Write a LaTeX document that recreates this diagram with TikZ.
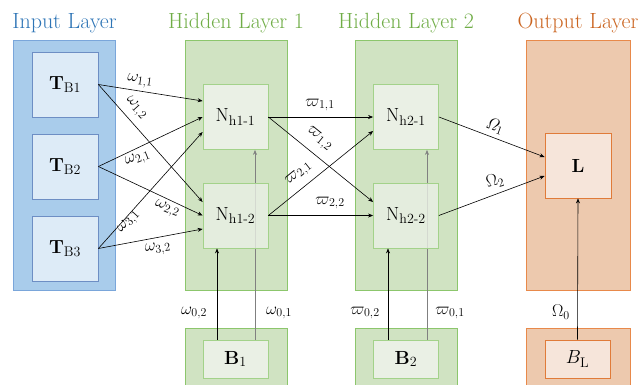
\RequirePackage{fix-cm}
\documentclass[tikz,border=0pt]{standalone}
\usepackage{amsmath}
\usetikzlibrary{arrows.meta,calc}

% larger sub-scripts for the unit names
\DeclareMathSizes{19}{19}{14}{10}
\DeclareMathSizes{17}{17}{12}{9}

\definecolor{inFill}{HTML}{A9CCEB}
\definecolor{inDraw}{HTML}{7AA6DA}
\definecolor{inBoxFill}{HTML}{DDEBF7}
\definecolor{inBoxDraw}{HTML}{6D8EC4}
\definecolor{inTitle}{HTML}{2E75B6}
\definecolor{hidFill}{HTML}{D0E3C2}
\definecolor{hidDraw}{HTML}{8CC66C}
\definecolor{hidBoxFill}{HTML}{EAF0E5}
\definecolor{hidBoxDraw}{HTML}{A3D28A}
\definecolor{hidTitle}{HTML}{70AD47}
\definecolor{outFill}{HTML}{EDC9AE}
\definecolor{outDraw}{HTML}{E8894A}
\definecolor{outBoxFill}{HTML}{F6E5DA}
\definecolor{outBoxDraw}{HTML}{E07B39}
\definecolor{outTitle}{HTML}{CB6521}

\tikzset{
  layer/.style={rectangle, draw, line width=0.8pt, minimum width=102pt, minimum height=250pt, inner sep=0pt},
  biaslayer/.style={rectangle, draw, line width=0.8pt, minimum width=102pt, minimum height=62pt, inner sep=0pt},
  unit/.style={rectangle, draw, line width=0.8pt, minimum width=65pt, minimum height=65pt, inner sep=0pt, font=\fontsize{19}{22}\selectfont},
  biasunit/.style={rectangle, draw, line width=0.8pt, minimum width=65pt, minimum height=38pt, inner sep=0pt, font=\fontsize{19}{22}\selectfont},
  title/.style={font=\fontsize{22}{26}\selectfont, inner sep=0pt},
  wlabel/.style={font=\fontsize{17}{20}\selectfont, inner sep=0pt},
  conn/.style={line width=0.6pt, -{Stealth[length=5pt,width=4pt]}},
  graylink/.style={conn, draw=black!50},
}

\begin{document}
\begin{tikzpicture}[x=1pt, y=-1pt]
\useasboundingbox (0,0) rectangle (638,384);

% layer titles
\node[title, text=inTitle]  (tin)  at (64.5,23)  {Input Layer};
\node[title, text=hidTitle] (th1)  at (236,23)   {Hidden Layer 1};
\node[title, text=hidTitle] (th2)  at (406,23)   {Hidden Layer 2};
\node[title, text=outTitle] (tout) at (578,23)   {Output Layer};

% layer backgrounds
\node[layer, fill=inFill, draw=inDraw] (Lin) at (64.5,165) {};
\node[layer, fill=hidFill, draw=hidDraw] (Lh1) at (236,165) {};
\node[layer, fill=hidFill, draw=hidDraw] (Lh2) at (406,165) {};
\node[layer, fill=outFill, draw=outDraw, minimum width=104pt] (Lout) at (578,165) {};
\node[biaslayer, fill=hidFill, draw=hidDraw] (Lb1) at (236,359) {};
\node[biaslayer, fill=hidFill, draw=hidDraw] (Lb2) at (406,359) {};
\node[biaslayer, fill=outFill, draw=outDraw, minimum width=104pt] (Lbl) at (578,359) {};

% bias units (drawn before the long bias links)
\node[biasunit, fill=hidBoxFill, draw=hidBoxDraw] (B1) at (235.5,359) {$\mathbf{B}_{1}$};
\node[biasunit, fill=hidBoxFill, draw=hidBoxDraw] (B2) at (406,359) {$\mathbf{B}_{2}$};
\node[biasunit, fill=outBoxFill, draw=outBoxDraw] (BL) at (577.5,359) {$B_{\mathrm{L}}$};

% upper hidden units and output unit
\node[unit, fill=hidBoxFill, draw=hidBoxDraw] (N11) at (235.5,117) {$\mathrm{N}_{\text{h1-1}}$};
\node[unit, fill=hidBoxFill, draw=hidBoxDraw] (N21) at (406,117) {$\mathrm{N}_{\text{h2-1}}$};
\node[unit, fill=outBoxFill, draw=outBoxDraw, minimum width=66pt] (L) at (578,165.5) {$\mathbf{L}$};

% bias links that pass behind the lower hidden units
\draw[graylink] ([xshift=19.5pt]B1.north) -- ([xshift=19.5pt]N11.south);
\draw[graylink] ([xshift=21pt]B2.north) -- ([xshift=21pt]N21.south);

% lower hidden units, slightly see-through
\node[unit, fill=hidBoxFill, draw=hidBoxDraw, fill opacity=0.8, text opacity=1] (N12) at (235.5,215.5) {$\mathrm{N}_{\text{h1-2}}$};
\node[unit, fill=hidBoxFill, draw=hidBoxDraw, fill opacity=0.8, text opacity=1] (N22) at (406,215.5) {$\mathrm{N}_{\text{h2-2}}$};

% input units
\node[unit, fill=inBoxFill, draw=inBoxDraw, minimum width=66pt] (T1) at (65,84.5)  {$\mathbf{T}_{\mathrm{B1}}$};
\node[unit, fill=inBoxFill, draw=inBoxDraw, minimum width=66pt] (T2) at (65,166.5) {$\mathbf{T}_{\mathrm{B2}}$};
\node[unit, fill=inBoxFill, draw=inBoxDraw, minimum width=66pt] (T3) at (65,248.5) {$\mathbf{T}_{\mathrm{B3}}$};

% input -> hidden layer 1
\draw[conn] (T1.east) -- ([yshift=16pt]N11.west);
\draw[conn] (T2.east) -- (N11.west);
\draw[conn] (T3.east) -- ([yshift=-15pt]N11.west);
\draw[conn] (T1.east) -- ([yshift=13.5pt]N12.west);
\draw[conn] (T2.east) -- (N12.west);
\draw[conn] (T3.east) -- ([yshift=-13.5pt]N12.west);

% hidden layer 1 -> hidden layer 2
\draw[conn] (N11.east) -- (N21.west);
\draw[conn] (N12.east) -- ([yshift=-14pt]N21.west);
\draw[conn] (N11.east) -- ([yshift=13.5pt]N22.west);
\draw[conn] (N12.east) -- (N22.west);

% hidden layer 2 -> output
\draw[conn] (N21.east) -- ([yshift=8.5pt]L.west);
\draw[conn] (N22.east) -- ([yshift=-10.5pt]L.west);

% bias links
\draw[conn] ([xshift=-18.5pt]B1.north) -- ([xshift=-18.5pt]N12.south);
\draw[conn] ([xshift=-18pt]B2.north) -- ([xshift=-18pt]N22.south);
\draw[conn] (BL.north) -- (L.south);

% weight labels
\node[wlabel, rotate=-8]  (w11) at (140,81)  {$\omega_{1,1}$};
\node[wlabel, rotate=-48] (w12) at (136,108) {$\omega_{1,2}$};
\node[wlabel, rotate=22]  (w21) at (138,159) {$\omega_{2,1}$};
\node[wlabel, rotate=-22] (w22) at (167,209) {$\omega_{2,2}$};
\node[wlabel, rotate=48]  (w31) at (129,222) {$\omega_{3,1}$};
\node[wlabel, rotate=7]   (w32) at (158,249) {$\omega_{3,2}$};
\node[wlabel] (v11) at (320,105) {$\varpi_{1,1}$};
\node[wlabel, rotate=-39] (v12) at (319,139) {$\varpi_{1,2}$};
\node[wlabel, rotate=39]  (v21) at (299,174) {$\varpi_{2,1}$};
\node[wlabel] (v22) at (330,203) {$\varpi_{2,2}$};
\node[wlabel, rotate=-20] (o1) at (495,126) {$\mathit{\Omega}_{1}$};
\node[wlabel, rotate=15]  (o2) at (495,181) {$\Omega_{2}$};
\node[wlabel] (w02) at (194,313) {$\omega_{0,2}$};
\node[wlabel] (w01) at (279,313) {$\omega_{0,1}$};
\node[wlabel] (v02) at (365,313) {$\varpi_{0,2}$};
\node[wlabel] (v01) at (450,313) {$\varpi_{0,1}$};
\node[wlabel] (o0)  at (561,312) {$\Omega_{0}$};
\end{tikzpicture}
\end{document}
